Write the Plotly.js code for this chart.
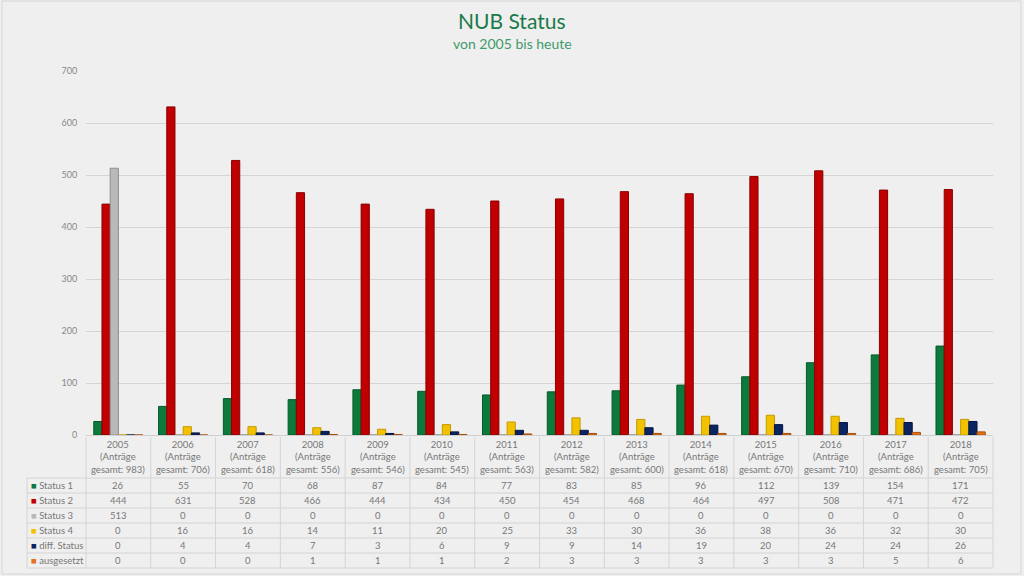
<!DOCTYPE html>
<html>
<head>
<meta charset="utf-8">
<script src="https://cdn.plot.ly/plotly-3.0.1.min.js"></script>
<style>
html,body{margin:0;padding:0;background:#efefef;}
#chart{width:1024px;height:576px;}
</style>
</head>
<body>
<div id="chart"></div>
<script>
const years = ['2005','2006','2007','2008','2009','2010','2011','2012','2013','2014','2015','2016','2017','2018'];
const totals = [983,706,618,556,546,545,563,582,600,618,670,710,686,705];
const status1 = [26,55,70,68,87,84,77,83,85,96,112,139,154,171];
const status2 = [444,631,528,466,444,434,450,454,468,464,497,508,471,472];
const status3 = [513,0,0,0,0,0,0,0,0,0,0,0,0,0];
const status4 = [0,16,16,14,11,20,25,33,30,36,38,36,32,30];
const diffStatus = [0,4,4,7,3,6,9,9,14,19,20,24,24,26];
const ausgesetzt = [0,0,0,1,1,1,2,3,3,3,3,3,5,6];
const seriesNames = ['Status 1','Status 2','Status 3','Status 4','diff. Status','ausgesetzt'];
const seriesColors = ['#0b7a3b','#c00000','#b9b9b9','#f2c200','#0b2462','#e2721c'];
const seriesLines = ['#075a2b','#8a0000','#8e8e8e','#c49a00','#061640','#a84f0c'];
const seriesData = [status1,status2,status3,status4,diffStatus,ausgesetzt];

const traces = seriesData.map((d,i)=>({
  type:'bar', x:years, y:d, name:seriesNames[i],
  marker:{color:seriesColors[i], line:{color:seriesLines[i], width:1}},
  hoverinfo:'x+y+name'
}));

// geometry helpers (pixel -> paper)
const T = 71, B = 435, L = 86, R = 993;
const PH = B - T, PW = R - L;
const py = y => (B - y) / PH;
const px = x => (x - L) / PW;
const catX = j => (j + 0.5) / years.length;   // centre of category j in paper units

const lineCol = '#d4d4d4';
const txtFont = {family:'Lato, sans-serif', size:9.5, color:'#777'};
const annotations = [];
const shapes = [];

// title
annotations.push({xref:'paper', yref:'paper', x:px(512), y:py(20), xanchor:'center', yanchor:'middle',
  text:'NUB Status', showarrow:false, font:{family:'Lato, sans-serif', size:21, color:'#1a7a4a'}});
annotations.push({xref:'paper', yref:'paper', x:px(512), y:py(43), xanchor:'center', yanchor:'middle',
  text:'von 2005 bis heute', showarrow:false, font:{family:'Lato, sans-serif', size:14, color:'#3f9a6b'}});

// table header (category labels)
years.forEach((y,j)=>{
  annotations.push({xref:'paper', yref:'paper', x:catX(j), y:py(457), xanchor:'center', yanchor:'middle',
    text:y+'<br>(Anträge<br>gesamt: '+totals[j]+')', showarrow:false, font:txtFont});
});
// table rows
const rowTop = 478, rowH = 15;
seriesNames.forEach((n,i)=>{
  const yc = py(rowTop + rowH*i + rowH/2);
  annotations.push({xref:'paper', yref:'paper', x:px(29), y:yc, xanchor:'left', yanchor:'middle',
    text:'<span style="color:'+seriesColors[i]+'">■</span> '+n, showarrow:false,
    font:{family:'Lato, sans-serif', size:9.5, color:'#777'}});
  years.forEach((y,j)=>{
    annotations.push({xref:'paper', yref:'paper', x:catX(j), y:yc, xanchor:'center', yanchor:'middle',
      text:String(seriesData[i][j]), showarrow:false, font:txtFont});
  });
});
// table lines
for (let i=0;i<=seriesNames.length;i++){
  shapes.push({type:'line', xref:'paper', yref:'paper', x0:px(27), x1:1, y0:py(rowTop+rowH*i), y1:py(rowTop+rowH*i),
    line:{color:lineCol, width:1}});
}
for (let j=0;j<=years.length;j++){
  shapes.push({type:'line', xref:'paper', yref:'paper', x0:j/years.length, x1:j/years.length, y0:py(437), y1:py(568),
    line:{color:lineCol, width:1}});
}
shapes.push({type:'line', xref:'paper', yref:'paper', x0:px(27), x1:px(27), y0:py(478), y1:py(568),
  line:{color:lineCol, width:1}});
// outer frame
shapes.push({type:'rect', xref:'paper', yref:'paper', x0:px(2), x1:px(1021), y0:py(574), y1:py(1),
  line:{color:'#d6d6d6', width:1}, fillcolor:'rgba(0,0,0,0)', layer:'below'});

const layout = {
  width:1024, height:576,
  paper_bgcolor:'#efefef', plot_bgcolor:'#efefef',
  margin:{l:L, r:1024-R, t:T, b:576-B},
  showlegend:false,
  barmode:'group', bargap:0.24, bargroupgap:0,
  font:{family:'Lato, sans-serif', color:'#777'},
  xaxis:{type:'category', showticklabels:false, showgrid:false, zeroline:false, showline:false,
    range:[-0.5, years.length-0.5]},
  yaxis:{range:[0,700], dtick:100, tick0:0,
    gridcolor:'#d4d4d4', gridwidth:1, zeroline:true, zerolinecolor:'#cfcfcf',
    showline:false, ticks:'outside', ticklen:6, tickcolor:'rgba(0,0,0,0)',
    tickfont:{family:'Lato, sans-serif', size:9, color:'#888'}},
  annotations:annotations,
  shapes:shapes
};

Plotly.newPlot('chart', traces, layout, {displayModeBar:false, staticPlot:true});
</script>
</body>
</html>
